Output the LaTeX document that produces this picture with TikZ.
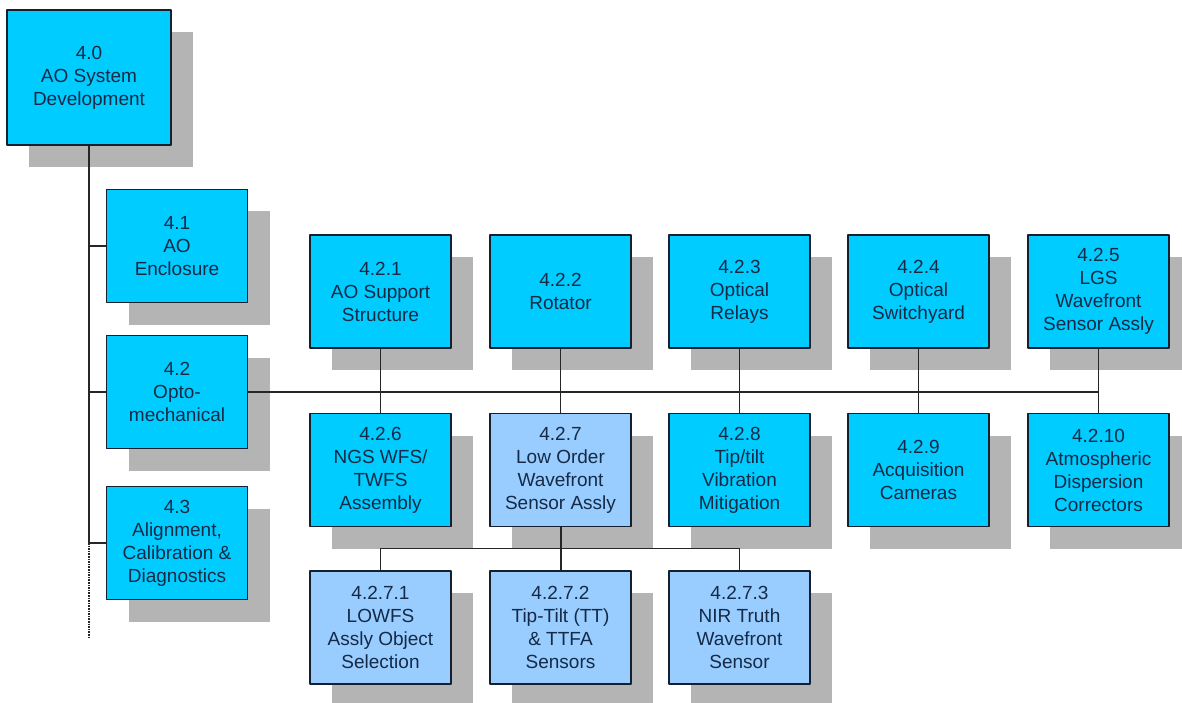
\documentclass[tikz,border=0pt]{standalone}
\usepackage{fontspec}
\setmainfont{Liberation Sans}
\usetikzlibrary{shadows}

\definecolor{wbscyan}{RGB}{0,204,255}
\definecolor{wbslight}{RGB}{153,204,255}
\definecolor{wbsshade}{RGB}{180,180,180}
\definecolor{wbsink}{RGB}{20,42,70}
\definecolor{wbsedge}{RGB}{20,32,48}

\begin{document}
\begin{tikzpicture}[
  x=1pt, y=-1pt, line join=round,
  wbs/.style={draw=wbsedge, line width=1.4pt, fill=wbscyan, text=wbsink,
              minimum width=141pt, minimum height=113pt, align=center,
              inner sep=2pt, font=\fontsize{19}{23}\selectfont,
              drop shadow={shadow xshift=22pt, shadow yshift=-22pt,
                           fill=wbsshade, opacity=1}},
  wbslo/.style={wbs, fill=wbslight},
  link/.style={draw=black!85, line width=1.5pt}
]
  \useasboundingbox (0,0) rectangle (1182,703);

  % ── Top level and left column ──────────────────────────────────────────
  \node[wbs, minimum width=164pt, minimum height=135pt] (root) at (89,77.5)
      {4.0\\AO System\\Development};
  \node[wbs] (n41) at (177,246) {4.1\\AO\\Enclosure};
  \node[wbs] (n42) at (177,392) {4.2\\Opto-\\mechanical};
  \node[wbs] (n43) at (177,543) {4.3\\Alignment,\\Calibration \&\\Diagnostics};

  % ── Opto-mechanical, upper row ─────────────────────────────────────────
  \node[wbs] (n421) at (380.5,291.5) {4.2.1\\AO Support\\Structure};
  \node[wbs] (n422) at (560.5,291.5) {4.2.2\\Rotator};
  \node[wbs] (n423) at (739.5,291.5) {4.2.3\\Optical\\Relays};
  \node[wbs] (n424) at (918.5,291.5) {4.2.4\\Optical\\Switchyard};
  \node[wbs] (n425) at (1098.5,291.5) {4.2.5\\LGS\\Wavefront\\Sensor Assly};

  % ── Opto-mechanical, lower row ─────────────────────────────────────────
  \node[wbs]   (n426)  at (380.5,470) {4.2.6\\NGS WFS/\\TWFS\\Assembly};
  \node[wbslo] (n427)  at (560.5,470) {4.2.7\\Low Order\\Wavefront\\Sensor Assly};
  \node[wbs]   (n428)  at (739.5,470) {4.2.8\\Tip/tilt\\Vibration\\Mitigation};
  \node[wbs]   (n429)  at (918.5,470) {4.2.9\\Acquisition\\Cameras};
  \node[wbs]   (n4210) at (1098.5,470) {4.2.10\\Atmospheric\\Dispersion\\Correctors};

  % ── LOWFS breakdown ────────────────────────────────────────────────────
  \node[wbslo] (n4271) at (380.5,627.5) {4.2.7.1\\LOWFS\\Assly Object\\Selection};
  \node[wbslo] (n4272) at (560.5,627.5) {4.2.7.2\\Tip-Tilt (TT)\\\& TTFA\\Sensors};
  \node[wbslo] (n4273) at (739.5,627.5) {4.2.7.3\\NIR Truth\\Wavefront\\Sensor};

  % spine from 4.0
  \coordinate (spineend) at (89,638);
  \draw[link, line width=2pt] (root.south) -- (root.south |- n43.west);
  \draw[link, line width=1.6pt, densely dotted] (root.south |- n43.west) -- (spineend);
  \foreach \kid in {n41,n42,n43}
    \draw[link] (root.south |- \kid.west) -- (\kid.west);

  % bus from 4.2
  \draw[link, line width=1.2pt] (n42.east) -- (n42.east -| n425.south);
  \foreach \up/\dn in {n421/n426, n422/n427, n423/n428, n424/n429, n425/n4210}
    \draw[link] (\up.south) -- (\dn.north);

  % bus from 4.2.7
  \draw[link, line width=2pt] (n427.south) -- (n4272.north);
  \draw[link] (n4271.north) -- ++(0,-22) -| (n4273.north);

\end{tikzpicture}
\end{document}
